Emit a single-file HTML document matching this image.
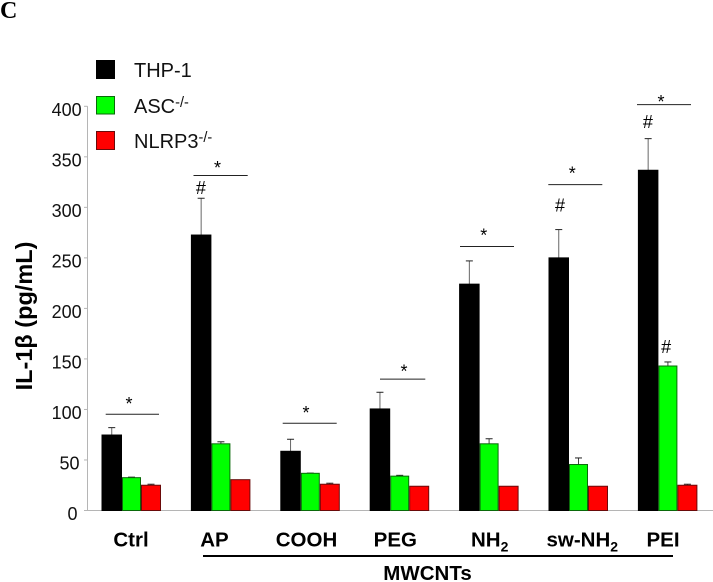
<!DOCTYPE html>
<html lang="en">
<head>
<meta charset="utf-8">
<title>IL-1β chart</title>
<style>
html,body{margin:0;padding:0;background:#fff;}
svg{display:block;font-family:"Liberation Sans",sans-serif;}
</style>
</head>
<body>
<svg id="chart" width="713" height="582" viewBox="0 0 713 582" xmlns="http://www.w3.org/2000/svg">
  <rect x="0" y="0" width="713" height="582" fill="#fff"/>
  <text x="0" y="18" font-family="'Liberation Serif',serif" font-weight="bold" font-size="24" fill="#000">C</text>
  <text transform="translate(32,316) rotate(-90)" text-anchor="middle" font-weight="bold" font-size="23.5" fill="#000">IL-1β (pg/mL)</text>
  <g font-size="20" fill="#111">
    <rect x="96.5" y="60.5" width="18" height="18" fill="#000" stroke="#000"/>
    <text x="134" y="77">THP-1</text>
    <rect x="96.5" y="96.5" width="18" height="17.5" fill="#00ff00" stroke="#0a6a0a"/>
    <text x="134" y="113">ASC<tspan dy="-6" font-size="14.5">-/-</tspan></text>
    <rect x="96.5" y="131.5" width="18" height="18" fill="#ff0000" stroke="#6a0a0a"/>
    <text x="134" y="148">NLRP3<tspan dy="-6" font-size="14.5">-/-</tspan></text>
  </g>
  <g id="axes"></g>
  <g id="bars"></g>
  <g id="annotations"></g>
  <g id="categories" font-weight="bold" font-size="20.5" fill="#000" text-anchor="middle"></g>
  <line x1="203" y1="556" x2="673" y2="556" stroke="#000" stroke-width="2"/>
  <text x="427.5" y="580" text-anchor="middle" font-weight="bold" font-size="20.5" fill="#000">MWCNTs</text>
</svg>
<script>
var categories = ['Ctrl', 'AP', 'COOH', 'PEG', 'NH2', 'sw-NH2', 'PEI'];
var thp1Values = [74.7, 272.6, 58.6, 100.5, 224, 250, 336.7];
var thp1Errors = [82, 309, 70.5, 117, 247, 278, 368];
var ascValues = [32.5, 66, 36.8, 34, 66, 45.5, 143];
var ascErrors = [33, 68, 37, 34.8, 71, 52, 147];
var nlrpValues = [25, 30.5, 26, 24, 24, 24, 25];
var nlrpErrors = [26, 30.5, 27, 24, 24, 24, 26];
var yTicks = [0, 50, 100, 150, 200, 250, 300, 350, 400];
var sigLevels = [95.2, 331.5, 86.3, 130, 261.2, 322.5, 401.7];
var starLevels = [109.3, 343, 100.4, 141.5, 276, 337.6, 408];
var hashValues = [null, 313, null, null, null, 296, 378.5];
var greenHashValues = [null, null, null, null, null, null, 156];

var NS = 'http://www.w3.org/2000/svg';
function yScale(v) { return 510.5 - v * 1.0105; }
function xGroup(i) { return 101.5 + i * 89.4; }
function sigStart(i) { return xGroup(i) + [4.2, 2.6, 2.4, 10.3, 0.9, -0.2, -0.9][i]; }
function sigEnd(i) { return xGroup(i) + [57.5, 56.8, 56.4, 55.6, 54.9, 53.8, 53.1][i]; }
function starX(i) { return xGroup(i) + [27.5, 26.6, 25.7, 34.3, 24.6, 23.8, 23.1][i]; }
function labelX(i) { return xGroup(i) + [29.5, 23.6, 26.2, 25.6, 30.6, 33.8, 25.1][i]; }
function tickLabelEnd(t) { return t >= 100 ? 81.7 : (t >= 50 ? 79.5 : 77.5); }
function make(tag, attrs, parent) {
  var el = document.createElementNS(NS, tag);
  for (var k in attrs) { el.setAttribute(k, attrs[k]); }
  parent.appendChild(el);
  return el;
}
var axes = document.getElementById('axes');
var barsG = document.getElementById('bars');
var annG = document.getElementById('annotations');
var catG = document.getElementById('categories');

var yAxis = make('line', {x1: 87.5, x2: 87.5, y1: yScale(400), y2: yScale(0), stroke: '#b5b5b5', 'stroke-width': 1}, axes);


var xAxis = make('line', {x1: 84, x2: 713, y1: yScale(0), y2: yScale(0), stroke: '#b5b5b5', 'stroke-width': 1}, axes);



yTicks.forEach(function (t) {
  var tick = make('line', {x1: 84, x2: 87.5, y1: yScale(t), y2: yScale(t), stroke: '#b5b5b5', 'stroke-width': 1}, axes);
  
  
  var label = make('text', {x: tickLabelEnd(t), y: yScale(t) + 9.5, 'text-anchor': 'end', 'font-size': 18, fill: '#111'}, axes);
  
  
  label.textContent = t;
});

function drawBar(x, w, value, err, fill, stroke, stemColor, name) {
  if (err > value) {
    var cx = x + w / 2;
    var stem = make('line', {x1: cx, x2: cx, y1: yScale(value), y2: yScale(err), stroke: stemColor, 'stroke-width': 1}, barsG);
    
    
    var cap = make('line', {x1: cx - 3.5, x2: cx + 3.5, y1: yScale(err), y2: yScale(err), stroke: '#222', 'stroke-width': 1}, barsG);
    
    
  }
  var rect = make('rect', {x: x + 0.5, y: yScale(value), width: w - 1, height: yScale(0) - yScale(value), fill: fill, stroke: stroke, 'stroke-width': 1}, barsG);
  
  
}

categories.forEach(function (c, i) {
  var x = xGroup(i);
  drawBar(x, 20.5, thp1Values[i], thp1Errors[i], '#000', '#000', '#666', 'thp1');
  drawBar(x + 20.5, 19, ascValues[i], ascErrors[i], '#00ff00', '#0a6a0a', '#444', 'asc');
  drawBar(x + 39.5, 20, nlrpValues[i], nlrpErrors[i], '#ff0000', '#6a0a0a', '#444', 'nlrp3');

  var sy = yScale(sigLevels[i]);
  var line = make('line', {x1: sigStart(i), x2: sigEnd(i), y1: sy, y2: sy, stroke: '#222', 'stroke-width': 1}, annG);
  
  
  var star = make('text', {x: starX(i), y: yScale(starLevels[i]) + 10, 'text-anchor': 'middle', 'font-size': 18, fill: '#000'}, annG);
  
  
  star.textContent = '*';

  if (hashValues[i] !== null) {
    var h = make('text', {x: x + (i === 5 ? 11.5 : 10), y: yScale(hashValues[i]), 'text-anchor': 'middle', 'font-size': 18, fill: '#000'}, annG);
    
    
    h.textContent = '#';
  }
  if (greenHashValues[i] !== null) {
    var g = make('text', {x: x + 28.2, y: yScale(greenHashValues[i]), 'text-anchor': 'middle', 'font-size': 18, fill: '#000'}, annG);
    
    
    g.textContent = '#';
  }

  var lab = make('text', {x: labelX(i), y: 546.5}, catG);
  
  
  var m = c.match(/^(.*)2$/);
  if (m) {
    lab.textContent = m[1];
    var sub = make('tspan', {dy: 5, 'font-size': 14}, lab);
    
    
    sub.textContent = '2';
  } else {
    lab.textContent = c;
  }
});
</script>
</body>
</html>
